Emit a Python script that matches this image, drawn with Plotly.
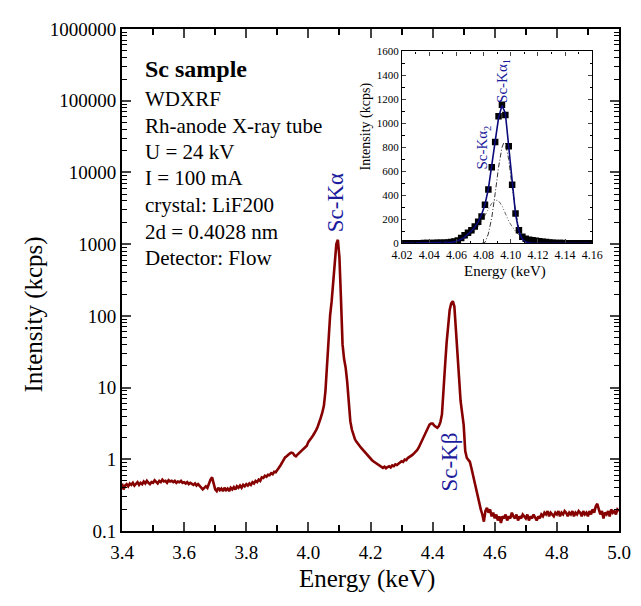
import numpy as np
import plotly.graph_objects as go

# ---------------- main spectrum (energy grid 3.40 .. 5.00, step 0.005 keV) ----------------
energy_start = 3.40
energy_end = 5.00
intensity_main = [
    0.46, 0.38, 0.43, 0.45, 0.42, 0.46, 0.44, 0.47, 0.43, 0.45,   # 3.40
    0.48, 0.44, 0.47, 0.45, 0.49, 0.46, 0.50, 0.47, 0.45, 0.48,   # 3.45
    0.47, 0.51, 0.48, 0.46, 0.50, 0.48, 0.52, 0.49, 0.50, 0.47,   # 3.50
    0.51, 0.49, 0.50, 0.48, 0.50, 0.47, 0.49, 0.48, 0.50, 0.47,   # 3.55
    0.48, 0.46, 0.48, 0.45, 0.47, 0.46, 0.44, 0.46, 0.43, 0.45,   # 3.60
    0.42, 0.40, 0.38, 0.40, 0.42, 0.40, 0.46, 0.52, 0.56, 0.48,   # 3.65
    0.38, 0.36, 0.40, 0.37, 0.39, 0.36, 0.40, 0.37, 0.39, 0.36,   # 3.70
    0.40, 0.38, 0.41, 0.38, 0.42, 0.40, 0.43, 0.40, 0.44, 0.42,   # 3.75
    0.45, 0.43, 0.46, 0.44, 0.48, 0.46, 0.50, 0.48, 0.52, 0.50,   # 3.80
    0.56, 0.55, 0.59, 0.57, 0.61, 0.60, 0.64, 0.62, 0.67, 0.66,   # 3.85
    0.70, 0.76, 0.82, 0.90, 0.98, 1.06, 1.10, 1.16, 1.20, 1.24,   # 3.90
    1.22, 1.14, 1.10, 1.16, 1.22, 1.28, 1.32, 1.38, 1.45, 1.55,   # 3.95
    1.75, 1.85, 2.00, 2.15, 2.30, 2.55, 2.85, 3.20, 3.80, 4.50,   # 4.00
    5.6, 9.0, 21, 58, 102, 160, 280, 560, 1000, 1150,             # 4.05
    650, 170, 40, 25, 19, 12, 6.5, 3.4, 2.6, 2.2,                  # 4.10
    1.9, 1.75, 1.62, 1.52, 1.44, 1.36, 1.28, 1.22, 1.15, 1.10,    # 4.15
    1.02, 0.97, 0.93, 0.90, 0.86, 0.84, 0.80, 0.78, 0.76, 0.79,   # 4.20
    0.75, 0.78, 0.80, 0.77, 0.82, 0.80, 0.85, 0.83, 0.88, 0.90,   # 4.25
    0.94, 0.92, 0.99, 0.97, 1.04, 1.07, 1.11, 1.15, 1.21, 1.26,   # 4.30
    1.34, 1.45, 1.62, 1.80, 2.05, 2.30, 2.55, 2.80, 3.05, 3.15,   # 4.35
    3.15, 2.95, 2.80, 2.75, 2.90, 3.30, 4.2, 8.0, 20, 42,          # 4.40
    80, 122, 150, 160, 135, 70, 36, 14, 6.5, 4.2,                  # 4.45
    3.0, 1.3, 1.05, 0.98, 0.92, 0.75, 0.60, 0.48, 0.38, 0.29,     # 4.50
    0.23, 0.20, 0.17, 0.135, 0.19, 0.21, 0.18, 0.20, 0.16, 0.18,  # 4.55
    0.15, 0.17, 0.14, 0.16, 0.13, 0.16, 0.15, 0.17, 0.14, 0.16,   # 4.60
    0.15, 0.18, 0.16, 0.15, 0.17, 0.14, 0.16, 0.15, 0.17, 0.16,   # 4.65
    0.15, 0.17, 0.14, 0.16, 0.15, 0.17, 0.15, 0.14, 0.16, 0.15,   # 4.70
    0.17, 0.16, 0.18, 0.17, 0.19, 0.16, 0.18, 0.17, 0.16, 0.18,   # 4.75
    0.17, 0.19, 0.16, 0.18, 0.17, 0.19, 0.18, 0.16, 0.18, 0.17,   # 4.80
    0.19, 0.16, 0.18, 0.17, 0.19, 0.18, 0.16, 0.19, 0.17, 0.18,   # 4.85
    0.16, 0.19, 0.17, 0.20, 0.18, 0.22, 0.24, 0.20, 0.17, 0.19,   # 4.90
    0.15, 0.18, 0.17, 0.19, 0.16, 0.20, 0.18, 0.19, 0.17, 0.20,   # 4.95
    0.19,                                                          # 5.00
]
energy_main = np.linspace(energy_start, energy_end, len(intensity_main))

# ---------------- inset: Sc-Kα region ----------------
inset_energy = [
    4.0210, 4.0235, 4.0260, 4.0285, 4.0310, 4.0335, 4.0360, 4.0385, 4.0410, 4.0435,
    4.0460, 4.0485, 4.0510, 4.0535, 4.0560, 4.0585, 4.0610, 4.0635, 4.0660, 4.0685,
    4.0710, 4.0735, 4.0760, 4.0785, 4.0810, 4.0835, 4.0860, 4.0885, 4.0910, 4.0935,
    4.0960, 4.0985, 4.1010, 4.1035, 4.1060, 4.1085, 4.1110, 4.1135, 4.1160, 4.1185,
    4.1210, 4.1235, 4.1260, 4.1285, 4.1310, 4.1335, 4.1360, 4.1385, 4.1410, 4.1435,
    4.1460, 4.1485, 4.1510, 4.1535, 4.1560, 4.1585,
]
inset_measured = [
    1.5, 1.6, 1.8, 2.0, 2.2, 2.5, 2.9, 3.2, 3.7, 4.2,
    4.9, 5.5, 6.5, 8, 11, 16, 25, 45, 68, 90,
    110, 142, 180, 225, 323, 450, 634, 845, 1060, 1155,
    1070, 810, 490, 250, 110, 55, 38, 30, 26, 22,
    19, 15, 12, 8, 6, 4.5, 3.5, 2.8, 2.5, 2.2,
    2.0, 1.9, 1.8, 1.7, 1.6, 1.5,
]
inset_fit = [
    0.5, 0.6, 0.7, 0.8, 0.9, 1.0, 1.2, 1.4, 1.7, 2.1,
    2.6, 3.3, 4.3, 5.8, 8.5, 13, 21, 34, 52, 75,
    102, 137, 180, 240, 325, 455, 635, 850, 1045, 1150,
    1085, 820, 500, 245, 100, 36, 12, 4, 1.5, 0.8,
    0.5, 0.4, 0.3, 0.3, 0.2, 0.2, 0.2, 0.1, 0.1, 0.1,
    0.1, 0.1, 0.1, 0.1, 0.1, 0.1,
]
ka1_energy = [4.0785, 4.0810, 4.0835, 4.0860, 4.0885, 4.0910, 4.0935, 4.0950, 4.0960,
              4.0985, 4.1010, 4.1035, 4.1060, 4.1085, 4.1110, 4.1135, 4.1160]
ka1_component = [0, 8, 80, 215, 415, 635, 800, 842, 835,
                 700, 470, 270, 120, 50, 15, 3, 0]
ka2_energy = [4.0535, 4.0585, 4.0635, 4.0685, 4.0735, 4.0760, 4.0785, 4.0810, 4.0835,
              4.0860, 4.0885, 4.0910, 4.0935, 4.0960, 4.0985, 4.1010, 4.1035, 4.1060,
              4.1085, 4.1110, 4.1135, 4.1160, 4.1210, 4.1260]
ka2_component = [2, 8, 25, 55, 105, 140, 185, 235, 290,
                 335, 362, 355, 315, 245, 185, 140, 100, 72,
                 50, 30, 17, 9, 3, 1]

# ---------------- axis ticks ----------------
main_y_tickvals = [0.1, 1, 10, 100, 1000, 10000, 100000, 1000000]
main_y_ticktext = ["0.1", "1", "10", "100", "1000", "10000", "100000", "1000000"]

FONT = "Liberation Serif, Times New Roman, serif"
RED = "#870000"
NAVY = "#1c1c9c"

fig = go.Figure()
fig.add_trace(go.Scatter(x=energy_main, y=intensity_main, mode="lines",
                         line=dict(color=RED, width=2.6), xaxis="x", yaxis="y",
                         showlegend=False, hoverinfo="skip"))

fig.add_trace(go.Scatter(x=ka2_energy, y=ka2_component, mode="lines",
                         line=dict(color="#666666", width=1, dash="4px,2px,1px,2px,1px,2px"),
                         xaxis="x2", yaxis="y2", showlegend=False))
fig.add_trace(go.Scatter(x=ka1_energy, y=ka1_component, mode="lines",
                         line=dict(color="#333333", width=1, dash="5px,2px,1px,2px"),
                         xaxis="x2", yaxis="y2", showlegend=False))
fig.add_trace(go.Scatter(x=inset_energy, y=inset_measured, mode="markers",
                         marker=dict(symbol="square", size=6.5, color="black"),
                         xaxis="x2", yaxis="y2", showlegend=False))
fig.add_trace(go.Scatter(x=inset_energy, y=inset_fit, mode="lines",
                         line=dict(color="#0a0a7a", width=1.6),
                         xaxis="x2", yaxis="y2", showlegend=False))

minor_log = [m * 10.0 ** e for e in range(-1, 6) for m in range(2, 10)]

axis_common = dict(showline=True, linecolor="black", mirror="allticks",
                   ticks="inside", showgrid=False, zeroline=False)

# the page body adds an 8 px offset; the figure is sized so that the page is 641x606
OFF = 8
FIG_W, FIG_H = 641 - OFF, 606 - OFF
# plot area in page pixels: x 122..630, y 23..531
L, R, T, B = 122, 630, 23, 531
W, H = R - L, B - T
def px(x):
    return (x - L) / W
def py(y):
    return (B - y) / H

fig.update_layout(
    width=FIG_W, height=FIG_H,
    margin=dict(l=L - OFF, r=FIG_W - (R - OFF), t=T - OFF, b=FIG_H - (B - OFF), pad=0),
    paper_bgcolor="white", plot_bgcolor="white",
    font=dict(family=FONT, color="black"),
    xaxis=dict(**axis_common, range=[3.4, 5.0], domain=[0, 1], anchor="y",
               tickvals=[3.4, 3.6, 3.8, 4.0, 4.2, 4.4, 4.6, 4.8, 5.0],
               ticktext=["3.4", "3.6", "3.8", "4.0", "4.2", "4.4", "4.6", "4.8", "5.0"],
               ticklen=9, tickwidth=1.5, linewidth=2, ticklabelstandoff=3,
               tickfont=dict(size=19, family=FONT),
               minor=dict(tickvals=[3.5, 3.7, 3.9, 4.1, 4.3, 4.5, 4.7, 4.9],
                          ticks="inside", ticklen=6, tickwidth=1.5, tickcolor="black")),
    yaxis=dict(**axis_common, type="log", range=[-1, 6], domain=[0, 1], anchor="x",
               tickvals=main_y_tickvals, ticktext=main_y_ticktext,
               ticklen=9, tickwidth=1.5, linewidth=2,
               tickfont=dict(size=19, family=FONT),
               minor=dict(tickvals=minor_log, ticks="inside", ticklen=5,
                          tickwidth=1.2, tickcolor="black")),
    xaxis2=dict(**axis_common, range=[4.02, 4.16], domain=[px(408.3), px(602.7)],
                anchor="y2", tickvals=[4.02, 4.04, 4.06, 4.08, 4.10, 4.12, 4.14, 4.16],
                ticktext=["4.02", "4.04", "4.06", "4.08", "4.10", "4.12", "4.14", "4.16"],
                ticklen=4, tickwidth=1, linewidth=1.2,
                tickfont=dict(size=12, family=FONT),
                minor=dict(tickvals=[4.03, 4.05, 4.07, 4.09, 4.11, 4.13, 4.15],
                           ticks="inside", ticklen=2.5, tickwidth=1, tickcolor="black")),
    yaxis2=dict(**axis_common, range=[0, 1600], domain=[py(240), py(45.7)],
                anchor="x2", tickvals=[0, 200, 400, 600, 800, 1000, 1200, 1400, 1600],
                ticklen=4, tickwidth=1, linewidth=1.2,
                tickfont=dict(size=11, family=FONT),
                minor=dict(tickvals=[100, 300, 500, 700, 900, 1100, 1300, 1500],
                           ticks="inside", ticklen=2.5, tickwidth=1, tickcolor="black")),
)

ann = []
def add_text(text, x, y, size, color="black", angle=0, xanchor="center", bold=False):
    ann.append(dict(text=("<b>%s</b>" % text) if bold else text,
                    x=px(x), y=py(y), xref="paper", yref="paper",
                    xanchor=xanchor, yanchor="middle", showarrow=False,
                    textangle=angle, font=dict(size=size, color=color, family=FONT)))

add_text("Sc sample", 143, 63, 24, xanchor="left", bold=True)
info_lines = ["WDXRF", "Rh-anode X-ray tube", "U = 24 kV", "I = 100 mA",
              "crystal: LiF200", "2d = 0.4028 nm", "Detector: Flow"]
info_y = [94, 121, 147.5, 174, 201, 228, 254.5]
for t, yy in zip(info_lines, info_y):
    add_text(t, 143, yy, 21, xanchor="left")

add_text("Sc-Kα", 341, 199, 23, color=NAVY, angle=-90)
add_text("Sc-Kβ", 457, 461, 23, color=NAVY, angle=-90)
add_text("Sc-Kα<sub>1</sub>", 512, 76, 15, color=NAVY, angle=-90)
add_text("Sc-Kα<sub>2</sub>", 491, 143, 15, color=NAVY, angle=-90)

add_text("Intensity (kcps)", 32, 312, 25, angle=-90)
add_text("Energy (keV)", 372, 580, 25)
add_text("Intensity (kcps)", 371, 122, 14, angle=-90)
add_text("Energy (keV)", 513, 268, 15)

fig.update_layout(annotations=ann)
fig.write_html("out.html")
